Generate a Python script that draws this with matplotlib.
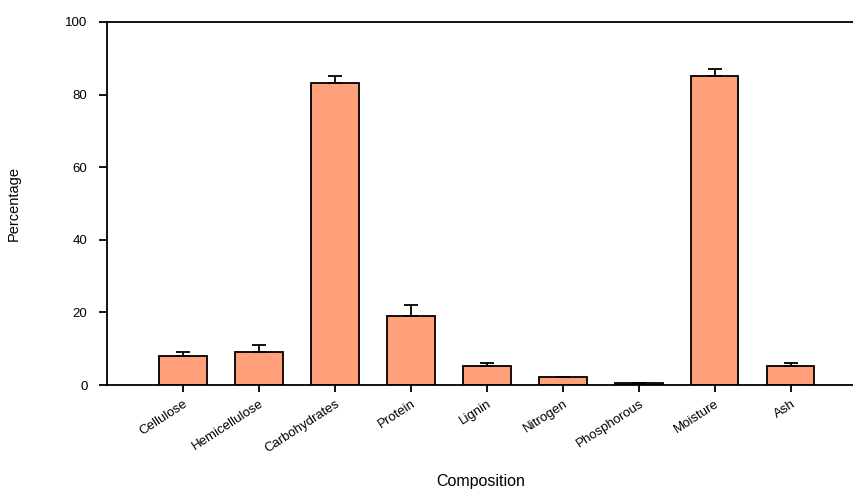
import matplotlib.pyplot as plt

components = ['Cellulose', 'Hemicellulose', 'Carbohydrates', 'Protein', 'Lignin',
              'Nitrogen', 'Phosphorous', 'Moisture', 'Ash']
percent = [8.1, 9.1, 83.1, 19.1, 5.2, 2.3, 0.5, 85.0, 5.2]
err = [1.0, 1.8, 2.0, 3.0, 1.0, 0.0, 0.0, 2.0, 1.0]

plt.rcParams['font.family'] = ['Liberation Sans', 'DejaVu Sans']

fig = plt.figure(figsize=(8.54, 4.95), dpi=100)
ax = fig.add_axes([0.1253, 0.2222, 0.8747, 0.7334])

pos = list(range(1, len(components) + 1))
ax.bar(pos, percent, width=0.62, color='#FFA07A', edgecolor='black', linewidth=1.3,
       yerr=[[0] * len(err), err], error_kw=dict(ecolor='black', elinewidth=1.3,
                                                 capsize=5, capthick=1.3))

ax.set_xlim(0, 9.83)
ax.set_ylim(0, 100)
ax.set_yticks([0, 20, 40, 60, 80, 100])
ax.set_xticks(pos)
ax.set_xticklabels(components, rotation=33, ha='right', rotation_mode='anchor', fontsize=9.5)
ax.tick_params(axis='y', labelsize=9.5, direction='out', length=6, width=1.3, pad=8)
ax.tick_params(axis='x', direction='out', length=5, width=1.3, pad=4)

ax.spines['right'].set_visible(False)
for s in ['left', 'bottom', 'top']:
    ax.spines[s].set_linewidth(1.3)

ax.set_xlabel('Composition', fontsize=11.5, labelpad=14)
ax.set_ylabel('Percentage', fontsize=10.5, labelpad=32)

fig.savefig('out.png', dpi=100)
